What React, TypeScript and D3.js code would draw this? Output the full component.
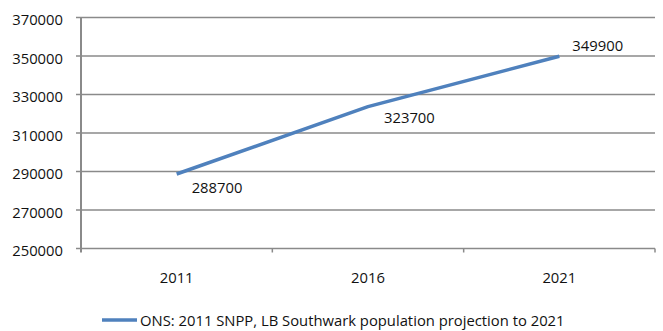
import React from "react";
import * as d3 from "d3";

const categories = ["2011", "2016", "2021"];
const values = [288700, 323700, 349900];
const yTicks = [250000, 270000, 290000, 310000, 330000, 350000, 370000];
const seriesName = "ONS: 2011 SNPP, LB Southwark population projection to 2021";

const W = 663;
const H = 331;
const M = { left: 81, right: 8, top: 17.5, bottom: 82.5 };
const FONT = "'Open Sans', 'Noto Sans', sans-serif";
const FS = 14.8;
const GRID = "#8a8a8a";
const LINE = "#4f81bd";

export default function App() {
  const x = d3
    .scaleBand<string>()
    .domain(categories)
    .range([M.left, W - M.right])
    .paddingInner(0)
    .paddingOuter(0);
  const y = d3
    .scaleLinear()
    .domain([250000, 370000])
    .range([H - M.bottom, M.top]);

  const pts = categories.map((c, i) => [x(c)! + x.bandwidth() / 2, y(values[i])] as [number, number]);
  const line = d3.line()(pts) || "";
  const x0 = M.left;
  const x1 = W - M.right;
  const yb = y(250000);

  const labelOffsets: [number, number][] = [
    [15, 19],
    [16, 16],
    [13, -5],
  ];

  const boundaries = [x0, ...categories.map((c) => x(c)! + x.bandwidth())];

  return (
    <div style={{ position: "absolute", left: 0, top: 0 }}>
      <svg width={W} height={H} style={{ display: "block", background: "#fff" }}>
        {yTicks.map((t) => (
          <g key={t}>
            <line x1={x0 - 5} x2={x1} y1={y(t)} y2={y(t)} stroke={GRID} strokeWidth={1.5} />
            <text
              x={63}
              y={y(t)}
              dy={7.5}
              textAnchor="end"
              fontFamily={FONT}
              fontSize={FS}
              fill="#111"
            >
              {t}
            </text>
          </g>
        ))}
        <line x1={x0} x2={x0} y1={M.top} y2={yb + 4} stroke={GRID} strokeWidth={2} />
        {boundaries.slice(1).map((b, i) => (
          <line key={i} x1={b} x2={b} y1={yb} y2={yb + 4} stroke={GRID} strokeWidth={1.5} />
        ))}
        {categories.map((c) => (
          <text
            key={c}
            x={x(c)! + x.bandwidth() / 2}
            y={282.5}
            textAnchor="middle"
            fontFamily={FONT}
            fontSize={FS}
            fill="#111"
          >
            {c}
          </text>
        ))}
        <path d={line} fill="none" stroke={LINE} strokeWidth={3.5} strokeLinejoin="round" />
        {pts.map((p, i) => (
          <text
            key={i}
            x={p[0] + labelOffsets[i][0]}
            y={p[1] + labelOffsets[i][1]}
            fontFamily={FONT}
            fontSize={FS}
            fill="#111"
          >
            {values[i]}
          </text>
        ))}
        <line x1={102} x2={137} y1={320} y2={320} stroke={LINE} strokeWidth={3.5} />
        <text x={140} y={326} fontFamily={FONT} fontSize={FS} fill="#111">
          {seriesName}
        </text>
      </svg>
    </div>
  );
}
